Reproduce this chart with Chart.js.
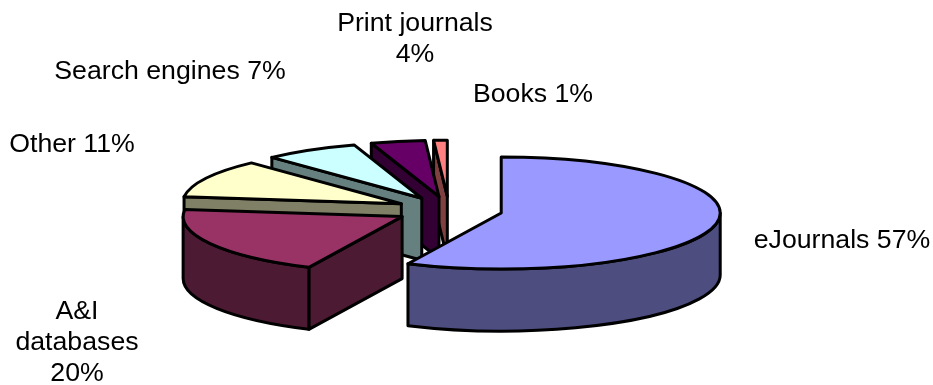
<!DOCTYPE html>
<html>
<head>
<meta charset="utf-8">
<script src="https://cdn.jsdelivr.net/npm/chart.js@4"></script>
<style>
  html, body { margin: 0; padding: 0; background: #fff; }
  canvas { display: block; }
</style>
</head>
<body>
<canvas id="myChart" width="933" height="385"></canvas>
<script>
const categories = ['eJournals', 'A&I databases', 'Other', 'Search engines', 'Print journals', 'Books'];
const shares = [57, 20, 11, 7, 4, 1];
const topColors = ['#9999FF', '#993366', '#FFFFCC', '#CCFFFF', '#660066', '#FF8080'];
const sideColors = ['#4D4D80', '#4D1A33', '#808066', '#668080', '#330033', '#804040'];

// label placement: centre x, first baseline y, wrap width
const labelSpots = [
    [842, 248, 400],
    [77, 319, 130],
    [72, 152, 400],
    [170, 79, 400],
    [415, 31, 180],
    [533, 102, 400]
];

const TILT = 0.256;     // squash of the pie disc
const DEPTH = 62;       // height of the extruded side
const FONT_SIZE = 26.7;
const LINE_GAP = 31;

function tracePoint(ctx, cx, cy, r, a, drop) {
    ctx.lineTo(cx + r * Math.cos(a), cy + r * Math.sin(a) * TILT + drop);
}

function traceRim(ctx, cx, cy, r, a0, a1, drop) {
    ctx.ellipse(cx, cy + drop, r, r * TILT, 0, a0, a1, a1 < a0);
}

function paintPath(ctx, fill) {
    ctx.closePath();
    ctx.fillStyle = fill;
    ctx.fill();
    ctx.stroke();
}

function drawEdgeWall(ctx, cx, cy, r, a, color) {
    ctx.beginPath();
    ctx.moveTo(cx, cy);
    tracePoint(ctx, cx, cy, r, a, 0);
    tracePoint(ctx, cx, cy, r, a, DEPTH);
    ctx.lineTo(cx, cy + DEPTH);
    paintPath(ctx, color);
}

function drawSlice(ctx, arc, options, side) {
    const {x, y, startAngle, endAngle, outerRadius} = arc.getProps(['x', 'y', 'startAngle', 'endAngle', 'outerRadius']);
    const mid = (startAngle + endAngle) / 2;
    const shift = (options.offset || 0) / 4;
    const cx = x + Math.cos(mid) * shift;
    const cy = y + Math.sin(mid) * shift * TILT;

    // radial walls, only the ones turned towards the viewer
    if (Math.cos(startAngle) < -1e-6) {
        drawEdgeWall(ctx, cx, cy, outerRadius, startAngle, side);
    }
    if (Math.cos(endAngle) > 1e-6) {
        drawEdgeWall(ctx, cx, cy, outerRadius, endAngle, side);
    }

    // outer wall, front half of the disc
    const from = Math.max(startAngle, 0);
    const to = Math.min(endAngle, Math.PI);
    if (to > from) {
        ctx.beginPath();
        traceRim(ctx, cx, cy, outerRadius, from, to, 0);
        traceRim(ctx, cx, cy, outerRadius, to, from, DEPTH);
        paintPath(ctx, side);
    }

    // top face
    ctx.beginPath();
    ctx.moveTo(cx, cy);
    traceRim(ctx, cx, cy, outerRadius, startAngle, endAngle, 0);
    paintPath(ctx, options.backgroundColor);
}

const pie3d = {
    id: 'pie3d',
    beforeDatasetDraw(chart, args) {
        const ctx = chart.ctx;
        const meta = args.meta;
        ctx.save();
        ctx.strokeStyle = '#000';
        ctx.lineWidth = 3;
        ctx.lineJoin = 'round';
        // back slices first so the front ones sit over them
        for (let i = meta.data.length - 1; i >= 0; i--) {
            drawSlice(ctx, meta.data[i], meta.data[i].options, sideColors[i]);
        }
        ctx.restore();
        return false;
    },
    afterDraw(chart) {
        const ctx = chart.ctx;
        ctx.save();
        ctx.font = FONT_SIZE + 'px "Liberation Sans", Arial, sans-serif';
        ctx.fillStyle = '#000';
        ctx.textAlign = 'center';
        categories.forEach((name, i) => {
            const [lx, ly, wrap] = labelSpots[i];
            let lines = [];
            let line = '';
            (name + ' ' + shares[i] + '%').split(' ').forEach(word => {
                const next = line ? line + ' ' + word : word;
                if (line && ctx.measureText(next).width > wrap) {
                    lines.push(line);
                    line = word;
                } else {
                    line = next;
                }
            });
            lines.push(line);
            lines.forEach((text, n) => ctx.fillText(text, lx, ly + n * LINE_GAP));
        });
        ctx.restore();
    }
};

new Chart(document.getElementById('myChart').getContext('2d'), {
    type: 'pie',
    data: {
        labels: categories,
        datasets: [{
            data: shares,
            backgroundColor: topColors,
            borderWidth: 0,
            offset: 214
        }]
    },
    options: {
        responsive: false,
        animation: false,
        radius: 219,
        layout: { padding: { top: 35, right: 35 } },
        plugins: {
            legend: { display: false },
            tooltip: { enabled: false }
        }
    },
    plugins: [pie3d]
});
</script>
</body>
</html>
